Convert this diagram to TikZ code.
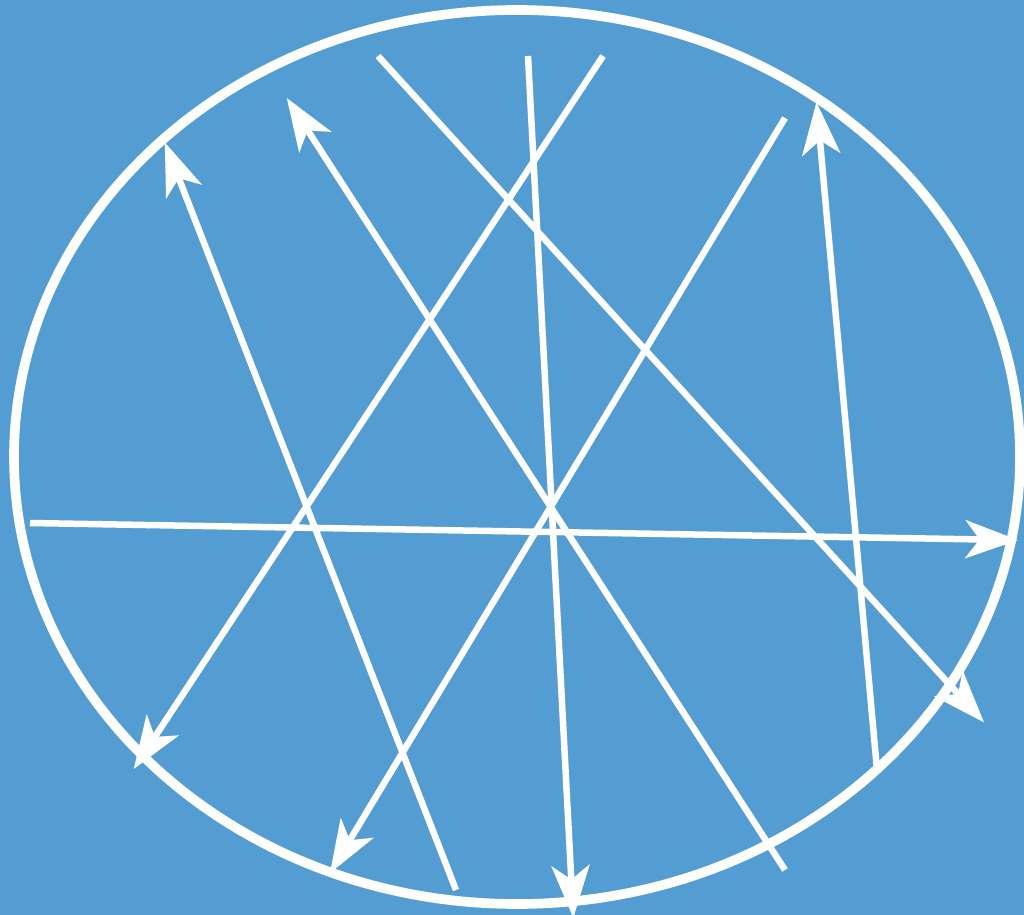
\documentclass[tikz,border=0pt]{standalone}
\usepackage{xcolor}
\usepackage{tikz}
\usetikzlibrary{arrows.meta}
\definecolor{skyblue}{HTML}{539DD3}
\tikzset{
  rim/.style={draw=white,line width=5.5pt},
  ray/.style={draw=white,line width=3.7pt},
  rayarrow/.style={ray,shorten >=-0.12cm,-{Stealth[length=1.05cm,width=0.76cm,inset=0.28cm]}}
}

\begin{document}
\begin{tikzpicture}[x=0.02cm,y=-0.02cm]
  % background and frame
  \fill[skyblue] (0,0) rectangle (1024,915);
  \useasboundingbox (0,0) rectangle (1024,915);
  \draw[rim] (517,457) ellipse [x radius=503,y radius=447];
  % end points
  \coordinate (h1) at (30,523);    \coordinate (h2) at (1012,540);
  \coordinate (a1) at (456,890);   \coordinate (a2) at (167,148);
  \coordinate (b1) at (785,870);   \coordinate (b2) at (290,103);
  \coordinate (c1) at (378,56);    \coordinate (c2) at (980,718);
  \coordinate (d1) at (528,56);    \coordinate (d2) at (573,912);
  \coordinate (e1) at (603,56);    \coordinate (e2) at (137,764);
  \coordinate (f1) at (785,118);   \coordinate (f2) at (333,868);
  \coordinate (g1) at (877,770);   \coordinate (g2) at (817,108);
  % rays
  \draw[rayarrow] (h1) -- (h2);
  \draw[rayarrow] (a1) -- (a2);
  \draw[rayarrow] (b1) -- (b2);
  \draw[rayarrow] (c1) -- (c2);
  \draw[rayarrow] (d1) -- (d2);
  \draw[rayarrow] (e1) -- (e2);
  \draw[rayarrow] (f1) -- (f2);
  \draw[rayarrow] (g1) -- (g2);
\end{tikzpicture}
\end{document}
